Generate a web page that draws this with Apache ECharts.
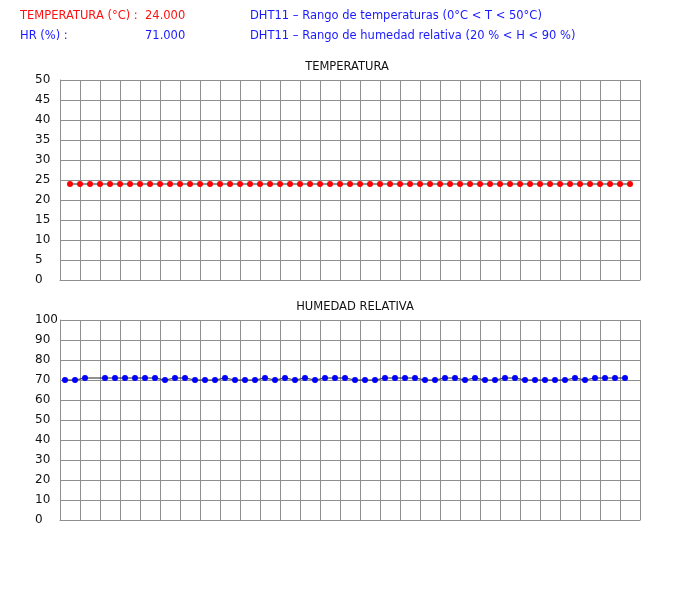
<!DOCTYPE html>
<html>
<head>
<meta charset="utf-8">
<script src="https://cdn.jsdelivr.net/npm/echarts@6/dist/echarts.min.js"></script>
<style>
html,body{margin:0;padding:0;background:#fff;}
#c{width:700px;height:600px;}
</style>
</head>
<body>
<div id="c"></div>
<script>
// Data
var temperatura = [24,24,24,24,24,24,24,24,24,24,24,24,24,24,24,24,24,24,24,24,24,24,24,24,24,24,24,24,24,24,24,24,24,24,24,24,24,24,24,24,24,24,24,24,24,24,24,24,24,24,24,24,24,24,24,24,24];
var humedad = [70,70,71,71,71,71,71,71,71,71,70,71,71,70,70,70,71,70,70,70,71,70,71,70,71,70,71,71,71,70,70,70,71,71,71,71,70,70,71,71,70,71,70,70,71,71,70,70,70,70,70,71,70,71,71,71,71];
var humedadSinMarca = [3];
var tempTicks = [0,5,10,15,20,25,30,35,40,45,50];
var humTicks = [0,10,20,30,40,50,60,70,80,90,100];
var tempActual = '24.000';
var humActual = '71.000';

var FONT = '"DejaVu Sans", sans-serif';
var GRIDC = '#8f8f8f';

var tempData = temperatura.map(function(v,i){ return [i+1, v]; });
var humData = humedad.map(function(v,i){
  var item = {value:[i+0.5, v]};
  if (humedadSinMarca.indexOf(i) >= 0) item.symbol = 'none';
  return item;
});

function xAxis(idx){
  return {gridIndex: idx, type:'value', min:0, max:58, interval:2,
    axisLine:{show:true, lineStyle:{color:GRIDC}}, axisTick:{show:false}, axisLabel:{show:false},
    splitLine:{show:true, lineStyle:{color:GRIDC, width:1}}};
}
function yAxis(idx, ticks){
  return {gridIndex: idx, type:'value', min:ticks[0], max:ticks[ticks.length-1], interval:ticks[1]-ticks[0],
    axisLine:{show:true, lineStyle:{color:GRIDC}}, axisTick:{show:false},
    axisLabel:{show:true, align:'left', margin:25, color:'#111', fontSize:12, fontFamily:FONT},
    splitLine:{show:true, lineStyle:{color:GRIDC, width:1}}};
}

var HF = '11.5px ' + FONT;
var chart = echarts.init(document.getElementById('c'), null, {renderer:'canvas'});
chart.setOption({
  animation:false,
  backgroundColor:'#fff',
  title:[
    {text:'TEMPERATURA', left:342, top:56, textAlign:'center', textStyle:{fontSize:11.5, fontWeight:'normal', color:'#111', fontFamily:FONT}},
    {text:'HUMEDAD RELATIVA', left:350, top:296, textAlign:'center', textStyle:{fontSize:11.5, fontWeight:'normal', color:'#111', fontFamily:FONT}}
  ],
  graphic:[
    {type:'text', left:20, top:10, style:{text:'TEMPERATURA (°C) :', fill:'#ff1010', font:HF}},
    {type:'text', left:145, top:10, style:{text:tempActual, fill:'#ff1010', font:HF}},
    {type:'text', left:250, top:10, style:{text:'DHT11 – Rango de temperaturas (0°C < T < 50°C)', fill:'#1a1aff', font:HF}},
    {type:'text', left:20, top:30, style:{text:'HR (%) :', fill:'#1a1aff', font:HF}},
    {type:'text', left:145, top:30, style:{text:humActual, fill:'#1a1aff', font:HF}},
    {type:'text', left:250, top:30, style:{text:'DHT11 – Rango de humedad relativa (20 % < H < 90 %)', fill:'#1a1aff', font:HF}}
  ],
  grid:[
    {left:60, top:80, width:580, height:200},
    {left:60, top:320, width:580, height:200}
  ],
  xAxis:[xAxis(0), xAxis(1)],
  yAxis:[yAxis(0, tempTicks), yAxis(1, humTicks)],
  series:[
    {type:'line', xAxisIndex:0, yAxisIndex:0, data:tempData, symbol:'circle', symbolSize:6,
      lineStyle:{color:'#222', width:1}, itemStyle:{color:'#ff0000', borderWidth:0}, z:3},
    {type:'line', xAxisIndex:1, yAxisIndex:1, data:humData, symbol:'circle', symbolSize:6,
      lineStyle:{color:'#222', width:1}, itemStyle:{color:'#0000ff', borderWidth:0}, z:3}
  ]
});
</script>
</body>
</html>
